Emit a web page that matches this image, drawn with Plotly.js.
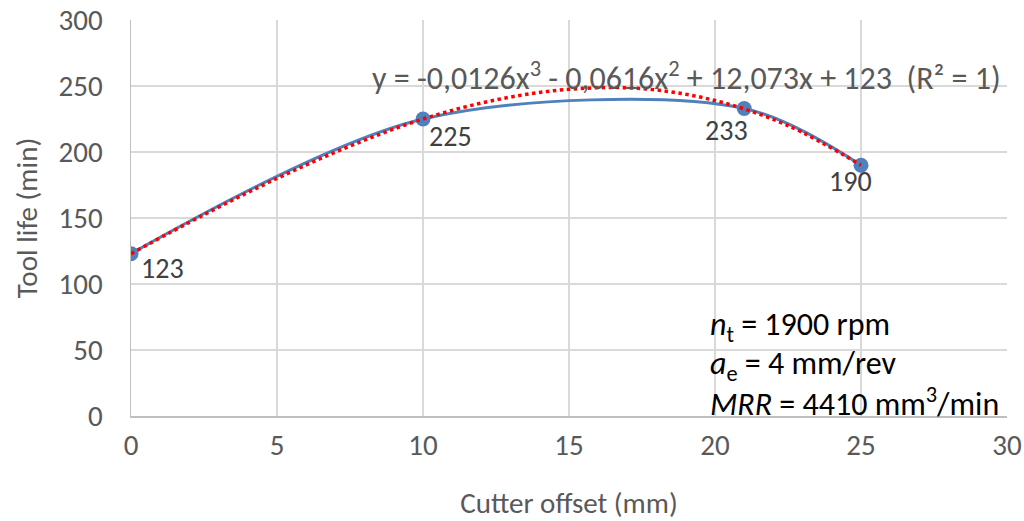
<!DOCTYPE html>
<html>
<head>
<meta charset="utf-8">
<script src="https://cdn.plot.ly/plotly-3.0.1.min.js"></script>
<style>html,body{margin:0;padding:0;background:#fff;}#chart{width:1024px;height:521px;}</style>
</head>
<body>
<div id="chart"></div>
<script>
// Measured data points
const offsets = [0, 10, 21, 25];
const toolLife = [123, 225, 233, 190];
const pointLabels = ["123", "225", "233", "190"];

// Cubic trendline, values
const trendX = [0, 2.5, 5, 7.5, 10, 12.5, 15, 17.5, 20, 22.5, 25];
const trendY = [123, 152.5, 180, 204.5, 225, 239.5, 247.5, 248, 239, 220, 190];

const equationText = "y = -0,0126x<sup>3</sup> - 0,0616x<sup>2</sup> + 12,073x + 123  (R² = 1)";
const infoLines = [
  "<i>n</i><sub>t</sub> = 1900 rpm",
  "<i>a</i><sub>e</sub> = 4 mm/rev",
  "<i>MRR</i> = 4410 mm<sup>3</sup>/min"
];
const infoY = [67.5, 38.5, 10.5];

// label placement styles (pixel offsets from each point)
const labelStyle = [
  {xanchor: "left", xshift: 8, yshift: 5},
  {xanchor: "left", xshift: 4, yshift: 2},
  {xanchor: "center", xshift: -18, yshift: -3},
  {xanchor: "center", xshift: -11, yshift: 3}
];

const FONT = "Carlito, Calibri, Lato, 'Open Sans', sans-serif";

const traces = [
  {
    x: offsets, y: toolLife, type: "scatter", mode: "lines+markers",
    line: {shape: "spline", smoothing: 0.9, color: "#4f81bd", width: 3},
    marker: {size: 15, color: "#4f81bd"},
    hoverinfo: "x+y", showlegend: false
  },
  {
    x: trendX, y: trendY, type: "scatter", mode: "lines",
    line: {shape: "spline", color: "#ff0000", width: 3.5, dash: "dot"},
    hoverinfo: "skip", showlegend: false
  }
];

const annotations = [
  {x: (686 - 131) / 876, xref: "x domain", y: (416 - 76) / 396, yref: "y domain",
   xanchor: "center", yanchor: "middle",
   text: equationText, showarrow: false,
   font: {family: FONT, size: 32, color: "#595959"}}
];
offsets.forEach((xv, i) => {
  annotations.push({x: xv, y: toolLife[i], xref: "x", yref: "y",
    text: pointLabels[i], showarrow: false, yanchor: "top",
    xanchor: labelStyle[i].xanchor, xshift: labelStyle[i].xshift, yshift: labelStyle[i].yshift,
    font: {family: FONT, size: 28, color: "#404040"}});
});
infoLines.forEach((t, i) => {
  annotations.push({x: 19.75, xref: "x", y: infoY[i], yref: "y", xanchor: "left", yanchor: "middle",
    text: t, showarrow: false, align: "left",
    font: {family: FONT, size: 32, color: "#000000"}});
});

const layout = {
  width: 1024, height: 521,
  margin: {l: 131, r: 17, t: 20, b: 105},
  paper_bgcolor: "#ffffff", plot_bgcolor: "#ffffff",
  font: {family: FONT, color: "#595959"},
  xaxis: {
    range: [0, 30], tickvals: [0, 5, 10, 15, 20, 25, 30], ticks: "",
    showgrid: true, gridcolor: "#d9d9d9", gridwidth: 1.5,
    showline: true, linecolor: "#bfbfbf", linewidth: 1.5,
    zeroline: false, tickfont: {family: FONT, size: 29, color: "#595959"},
    ticklabelstandoff: 3,
    title: {text: "Cutter offset (mm)", font: {family: FONT, size: 29, color: "#595959"}, standoff: 33}
  },
  yaxis: {
    range: [0, 300], tickvals: [0, 50, 100, 150, 200, 250, 300], ticks: "",
    showgrid: true, gridcolor: "#d9d9d9", gridwidth: 1.5,
    showline: true, linecolor: "#bfbfbf", linewidth: 1.5,
    zeroline: false, tickfont: {family: FONT, size: 29, color: "#595959"},
    ticklabelstandoff: 21,
    title: {text: "Tool life (min)", font: {family: FONT, size: 29, color: "#595959"}, standoff: 12}
  },
  annotations: annotations
};

Plotly.newPlot("chart", traces, layout, {displayModeBar: false, staticPlot: true});
</script>
</body>
</html>
